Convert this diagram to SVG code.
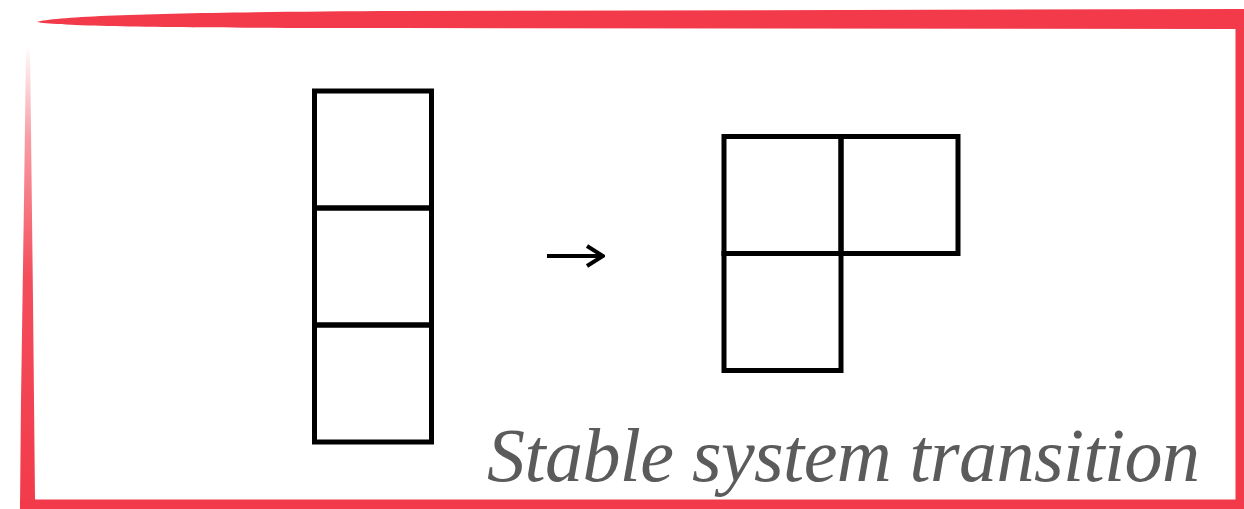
<svg xmlns="http://www.w3.org/2000/svg" width="1244" height="509" viewBox="0 0 1244 509">
  <style>
    .cell { fill: none; stroke: #000; stroke-width: 5; }
    .brush { fill: #f23a4a; }
    .caption { font-family: "Liberation Serif", "DejaVu Serif", serif; font-style: italic; font-size: 76px; fill: #5b5b5b; }
  </style>
  <defs>
    <linearGradient id="leftFade" x1="0" y1="45" x2="0" y2="509" gradientUnits="userSpaceOnUse">
      <stop offset="0" stop-color="#f23a4a" stop-opacity="0"/>
      <stop offset="0.2" stop-color="#f23a4a" stop-opacity="0.5"/>
      <stop offset="0.5" stop-color="#f23a4a" stop-opacity="0.9"/>
      <stop offset="1" stop-color="#f23a4a" stop-opacity="1"/>
    </linearGradient>
    <marker id="arrowOpen" viewBox="0 0 20 24" refX="18" refY="12" markerWidth="20" markerHeight="24" markerUnits="userSpaceOnUse" orient="auto">
      <path d="M2,2 L18,12 L2,22" fill="none" stroke="#000" stroke-width="4" stroke-linejoin="miter"/>
    </marker>
  </defs>

  <rect width="1244" height="509" fill="#fff"/>

  <!-- brush-stroke frame -->
  <g id="frame">
    <path class="brush" d="M37,22 C60,15 200,12 400,11 L1244,9 L1244,29 L400,28 C200,28 60,27 37,22 Z"/>
    <rect class="brush" x="1235.5" y="9" width="8.5" height="500"/>
    <rect class="brush" x="20" y="499.5" width="1224" height="9.5"/>
    <path d="M26,45 L30,45 L33,300 L35,500 L35,509 L20,509 L21,400 L24,200 Z" fill="url(#leftFade)"/>
  </g>

  <!-- vertical stack of three cells -->
  <g id="stack">
    <rect class="cell" x="314.5" y="91" width="117" height="117"/>
    <rect class="cell" x="314.5" y="208" width="117" height="117"/>
    <rect class="cell" x="314.5" y="325" width="117" height="117"/>
  </g>

  <!-- L-shaped arrangement of three cells -->
  <g id="lshape">
    <rect class="cell" x="724" y="136.5" width="117" height="117"/>
    <rect class="cell" x="841" y="136.5" width="117" height="117"/>
    <rect class="cell" x="724" y="253.5" width="117" height="117"/>
  </g>

  <g id="connectors">
    <line x1="547" y1="256" x2="603" y2="256" stroke="#000" stroke-width="4" marker-end="url(#arrowOpen)"/>
  </g>

  <g id="caption">
    <text class="caption" x="487" y="481" textLength="713" lengthAdjust="spacing">Stable system transition</text>
  </g>
</svg>
